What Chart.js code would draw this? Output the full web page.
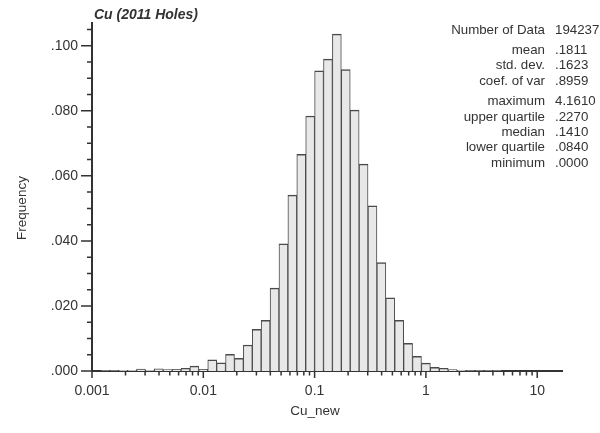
<!DOCTYPE html>
<html>
<head>
<meta charset="utf-8">
<script src="https://cdn.jsdelivr.net/npm/chart.js@4.4.1/dist/chart.umd.min.js"></script>
<style>
  html, body { margin: 0; padding: 0; background: #fff; }
  #wrap { width: 600px; height: 433px; position: relative; }
</style>
</head>
<body>
<div id="wrap"><canvas id="histo"></canvas></div>
<script>
// histogram bins are 0.08 wide in log10(Cu), first edge at 0.001
const binStartLog = -3;
const binWidthLog = 0.08;
const frequencies = [
  0.0000, 0.0001, 0.0001, 0.0002, 0.0002, 0.0006, 0.0002, 0.0007, 0.0004, 0.0005,
  0.0008, 0.0015, 0.0005, 0.0034, 0.0025, 0.0051, 0.0039, 0.0080, 0.0128, 0.0156,
  0.0255, 0.0391, 0.0541, 0.0666, 0.0784, 0.0923, 0.0959, 0.1036, 0.0927, 0.0802,
  0.0636, 0.0508, 0.0333, 0.0225, 0.0156, 0.0085, 0.0045, 0.0024, 0.0011, 0.0008,
  0.0004, 0.0002, 0.0001, 0.0001, 0.0001, 0.0001
];
const xTickValues = [0.001, 0.01, 0.1, 1, 10];
const xTickLabels = ['0.001', '0.01', '0.1', '1', '10'];
const yTickValues = [0, 0.02, 0.04, 0.06, 0.08, 0.1];
const yTickLabels = ['.000', '.020', '.040', '.060', '.080', '.100'];
const statNames = ['Number of Data', 'mean', 'std. dev.', 'coef. of var',
                   'maximum', 'upper quartile', 'median', 'lower quartile', 'minimum'];
const statValues = ['194237', '.1811', '.1623', '.8959',
                    '4.1610', '.2270', '.1410', '.0840', '.0000'];

const FONT = '"Liberation Sans", Arial, Helvetica, sans-serif';
const INK = '#333';

const points = frequencies.map((f, i) => ({
  x: Math.pow(10, binStartLog + binWidthLog * (i + 0.5)),
  y: f
}));

// tick marks (major + minor), title, stats and axis titles
const decorations = {
  id: 'decorations',
  afterDraw(chart) {
    const { ctx, chartArea: a, scales: { x, y } } = chart;
    ctx.save();
    ctx.strokeStyle = INK;
    ctx.lineWidth = 1.5;
    ctx.beginPath();
    for (let e = -3; e <= 1; e++) {
      for (let m = 1; m <= 9; m++) {
        const v = m * Math.pow(10, e);
        if (v > x.max) break;
        const px = x.getPixelForValue(v);
        ctx.moveTo(px, a.bottom);
        ctx.lineTo(px, a.bottom + (m === 1 ? 7 : 4.5));
      }
    }
    for (let i = 0; i * 0.005 <= y.max + 1e-9; i++) {
      const py = y.getPixelForValue(i * 0.005);
      ctx.moveTo(a.left, py);
      ctx.lineTo(a.left - (i % 4 === 0 ? 11 : 5), py);
    }
    ctx.stroke();

    ctx.fillStyle = INK;
    ctx.textBaseline = 'middle';

    ctx.font = 'italic bold 14px ' + FONT;
    ctx.textAlign = 'left';
    ctx.fillText('Cu (2011 Holes)', 94, 15);

    ctx.font = '13.3px ' + FONT;
    const rowY = [30, 50, 65, 81, 101, 117, 132, 147.5, 163];
    statNames.forEach((name, i) => {
      ctx.textAlign = 'right';
      ctx.fillText(name, 545, rowY[i]);
      ctx.textAlign = 'left';
      ctx.fillText(statValues[i], 555, rowY[i]);
    });

    ctx.font = '13.5px ' + FONT;
    ctx.textAlign = 'center';
    ctx.fillText('Cu_new', 315, 411);
    ctx.translate(22, 208);
    ctx.rotate(-Math.PI / 2);
    ctx.fillText('Frequency', 0, 0);
    ctx.restore();
  }
};

new Chart(document.getElementById('histo'), {
  type: 'bar',
  data: {
    datasets: [{
      data: points,
      backgroundColor: '#e8e8e8',
      borderColor: '#4a4a4a',
      borderWidth: { top: 1.5, left: 1, right: 1, bottom: 0 },
      borderSkipped: false,
      barPercentage: 1,
      categoryPercentage: 1
    }]
  },
  options: {
    responsive: true,
    maintainAspectRatio: false,
    animation: false,
    layout: { padding: { top: 23, right: 38, left: 0, bottom: 0 } },
    plugins: { legend: { display: false }, tooltip: { enabled: false } },
    scales: {
      x: {
        type: 'logarithmic',
        min: 0.001,
        max: 16.7,
        afterBuildTicks: s => { s.ticks = xTickValues.map(v => ({ value: v })); },
        afterFit: s => { s.height = 62; },
        grid: { display: false, drawTicks: false },
        border: { display: true, color: INK, width: 2 },
        ticks: {
          autoSkip: false,
          maxRotation: 0,
          padding: 12,
          color: INK,
          font: { family: FONT, size: 14 },
          callback: (v, i) => xTickLabels[i]
        }
      },
      y: {
        min: 0,
        max: 0.107,
        afterBuildTicks: s => { s.ticks = yTickValues.map(v => ({ value: v })); },
        afterFit: s => { s.width = 92; },
        grid: { display: false, drawTicks: false },
        border: { display: true, color: INK, width: 2 },
        ticks: {
          autoSkip: false,
          padding: 14,
          color: INK,
          font: { family: FONT, size: 14 },
          callback: (v, i) => yTickLabels[i]
        }
      }
    }
  },
  plugins: [decorations]
});
</script>
</body>
</html>
